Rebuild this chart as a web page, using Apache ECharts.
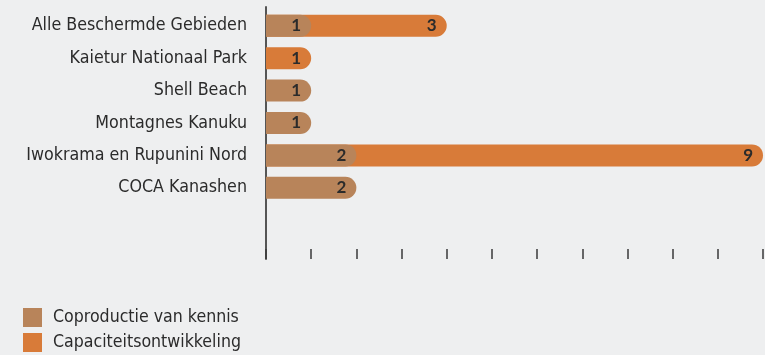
<!DOCTYPE html>
<html>
<head>
<meta charset="utf-8">
<script src="https://cdn.jsdelivr.net/npm/echarts@6/dist/echarts.min.js"></script>
<style>
  html, body { margin: 0; padding: 0; background: #eeeff0; }
  #chart { width: 765px; height: 355px; }
</style>
</head>
<body>
<div id="chart"></div>
<script>
// Protected areas and the number of activities per type
const categories = [
  'Alle Beschermde Gebieden',
  'Kaietur Nationaal Park',
  'Shell Beach',
  'Montagnes Kanuku',
  'Iwokrama en Rupunini Nord',
  'COCA Kanashen'
];
const coproductie = [1, 0, 1, 1, 2, 2];       // Coproductie van kennis
const capaciteit = [3, 1, 0, 0, 9, 0];        // Capaciteitsontwikkeling
const seriesNames = ['Coproductie van kennis', 'Capaciteitsontwikkeling'];
const xMax = 11;

const BROWN = '#b8845a';
const ORANGE = '#d87b39';
const TEXT = '#2b2b2b';
const NARROW = '"DejaVu Sans Condensed", "Liberation Sans", sans-serif';

// Orange segment continues after the brown one; it is drawn underneath so the
// brown rounded cap sits on top of it.
const orangeEnds = capaciteit.map((v, i) => v > 0 ? { value: coproductie[i] + v, own: v } : '-');
const brownBars = coproductie.map(v => v > 0 ? v : '-');

const chart = echarts.init(document.getElementById('chart'), null, { renderer: 'canvas' });

const barLabel = {
  show: true,
  position: 'insideRight',
  distance: 10,
  color: TEXT,
  fontFamily: 'Lato, "Open Sans", sans-serif',
  fontWeight: 'bold',
  fontSize: 17
};

chart.setOption({
  backgroundColor: '#eeeff0',
  animation: false,
  legend: {
    orient: 'vertical',
    left: 23,
    top: 308,
    padding: 0,
    itemWidth: 19,
    itemHeight: 19,
    itemGap: 6,
    icon: 'rect',
    data: seriesNames,
    textStyle: { fontFamily: NARROW, fontSize: 17.6, color: TEXT, padding: [0, 0, 0, 6] }
  },
  grid: [
    { left: 266, right: 2, top: 9.6, height: 194.4 },
    { left: 266, right: 2, top: 7, bottom: 96 }
  ],
  xAxis: [
    {
      gridIndex: 0, type: 'value', min: 0, max: xMax, interval: 1,
      axisLine: { show: false }, axisTick: { show: false },
      axisLabel: { show: false }, splitLine: { show: false }
    },
    {
      gridIndex: 1, type: 'value', min: 0, max: xMax, interval: 1,
      axisLine: { show: false },
      axisTick: { show: true, inside: true, length: 10, lineStyle: { color: '#3a3a3a', width: 1.5 } },
      axisLabel: { show: false }, splitLine: { show: false }
    }
  ],
  yAxis: [
    {
      gridIndex: 0, type: 'category', inverse: true, data: categories,
      axisLine: { show: false }, axisTick: { show: false },
      axisLabel: { fontFamily: NARROW, fontSize: 17.7, color: TEXT, margin: 19 }
    },
    {
      gridIndex: 1, type: 'value', min: 0, max: 1,
      axisLine: { show: true, lineStyle: { color: '#555555', width: 2 } },
      axisTick: { show: false }, axisLabel: { show: false }, splitLine: { show: false }
    }
  ],
  series: [
    {
      name: seriesNames[1],
      type: 'bar',
      xAxisIndex: 0, yAxisIndex: 0,
      barWidth: 22,
      barGap: '-100%',
      data: orangeEnds,
      itemStyle: { color: ORANGE, borderRadius: [0, 11, 11, 0] },
      label: Object.assign({}, barLabel, { formatter: p => p.data.own })
    },
    {
      name: seriesNames[0],
      type: 'bar',
      xAxisIndex: 0, yAxisIndex: 0,
      barWidth: 22,
      barGap: '-100%',
      data: brownBars,
      itemStyle: { color: BROWN, borderRadius: [0, 11, 11, 0] },
      label: barLabel
    }
  ]
});
</script>
</body>
</html>
